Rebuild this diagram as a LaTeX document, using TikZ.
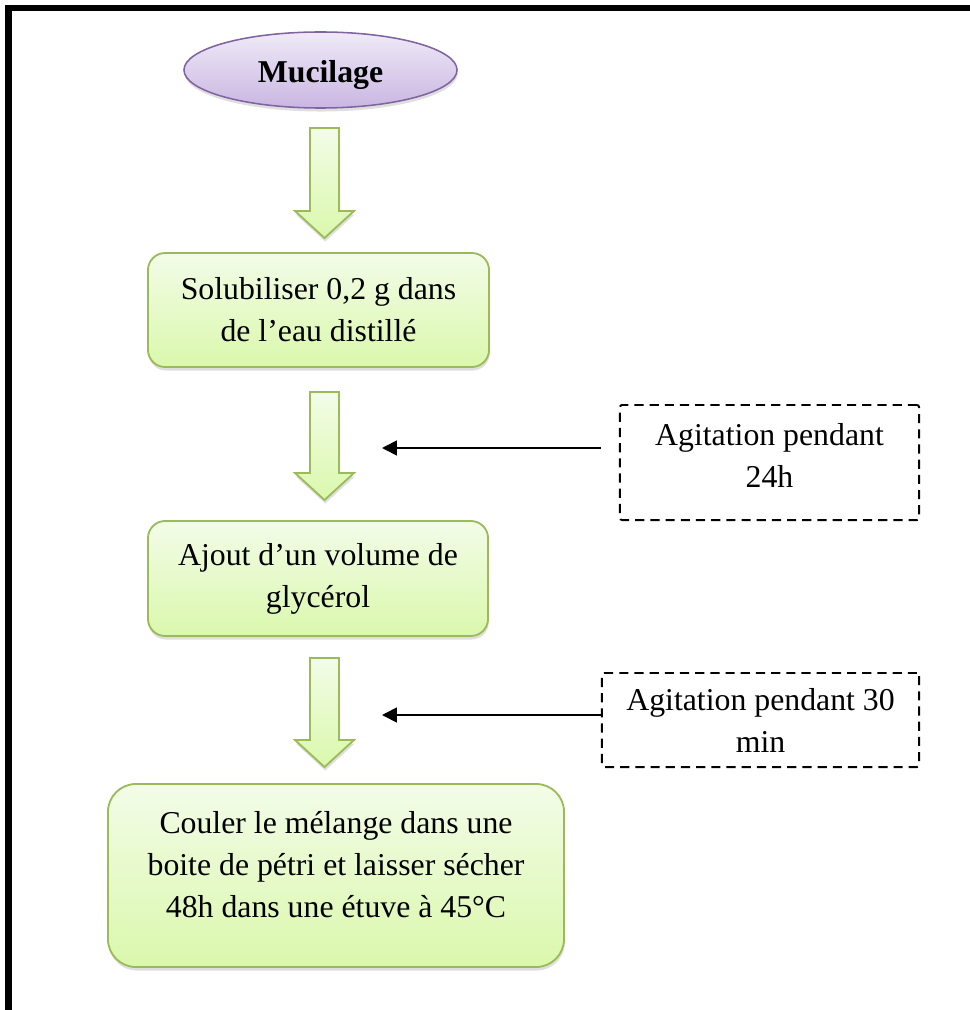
\documentclass[tikz,border=0pt]{standalone}
\usepackage{fontspec}
\setmainfont{Liberation Serif}
\usetikzlibrary{arrows.meta,shapes.geometric,shadows}

\definecolor{vertbord}{HTML}{9BBB59}
\definecolor{verthaut}{HTML}{F3FCE8}
\definecolor{vertbas}{HTML}{DAF8AC}
\definecolor{violetbord}{HTML}{8064A2}
\definecolor{violethaut}{HTML}{EFEAF7}
\definecolor{violetbas}{HTML}{CAB6E2}

\tikzset{
  ombre/.style={drop shadow={opacity=0.25, shadow xshift=0.5pt, shadow yshift=-2.5pt}},
  produit/.style={ellipse, draw=violetbord, line width=1.1pt, top color=violethaut,
    bottom color=violetbas, inner sep=0pt, ombre},
  etape/.style={rectangle, draw=vertbord, line width=1.3pt, top color=verthaut,
    bottom color=vertbas, align=center, inner sep=0pt, ombre},
  consigne/.style={rectangle, draw, line width=1.4pt, dash pattern=on 6.5pt off 4.3pt,
    rounded corners=1.5pt, align=center, inner sep=0pt},
  grosse/.style={draw=vertbord, line width=1.3pt, top color=verthaut,
    bottom color=vertbas, line join=miter, ombre},
  fleche/.style={line width=1.2pt, -{Triangle[length=10.5pt,width=10.5pt]}}
}

% grosse fleche verte : #1 = haut, #2 = pointe
\newcommand{\grossefleche}[2]{%
  \draw[grosse] ([shift={(-14.5,0)}]#1) -- ([shift={(14.5,0)}]#1)
    -- ([shift={(14.5,-27)}]#2) -- ([shift={(29.5,-27)}]#2) -- (#2)
    -- ([shift={(-29.5,-27)}]#2) -- ([shift={(-14.5,-27)}]#2) -- cycle;}

\begin{document}
\begin{tikzpicture}[x=0.025cm, y=-0.025cm,
    every node/.style={font=\fontsize{22.6}{29.9}\selectfont}]
  \useasboundingbox (0,0) rectangle (969,1010);

  % cadre
  \draw[line width=4.3pt] (8.5,1030) -- (8.5,8) -- (990,8);

  % etapes
  \node[produit, minimum width=6.825cm, minimum height=1.9cm,
    text height=0.825cm, text depth=0.175cm] (mucilage) at (320.5,70) {\bfseries Mucilage};
  \node[etape, rounded corners=0.43cm, minimum width=8.525cm, minimum height=2.85cm]
    (solub) at (318.5,310) {Solubiliser 0,2 g dans\\de l’eau distillé};
  \node[etape, rounded corners=0.43cm, minimum width=8.5cm, minimum height=2.875cm]
    (ajout) at (318,578.5) {Ajout d’un volume de\\glycérol};
  \node[etape, rounded corners=0.7cm, minimum width=11.4cm, minimum height=4.575cm,
    text depth=0.575cm] (couler) at (336,875.5)
    {Couler le mélange dans une\\boite de pétri et laisser sécher\\48h dans une étuve à 45°C};

  % conditions
  \node[consigne, minimum width=7.475cm, minimum height=2.875cm, text depth=0.35cm]
    (agit1) at (769.5,462.5) {Agitation pendant\\24h};
  \node[consigne, minimum width=7.925cm, minimum height=2.35cm]
    (agit2) at (760.5,720) {Agitation pendant 30\\min};

  % grosses fleches
  \coordinate (h1) at (324.5,128);
  \coordinate (b1) at (324.5,238);
  \coordinate (h2) at (324.5,392);
  \coordinate (b2) at (324.5,500);
  \coordinate (h3) at (324.5,658);
  \coordinate (b3) at (324.5,767);
  \grossefleche{h1}{b1}
  \grossefleche{h2}{b2}
  \grossefleche{h3}{b3}

  % fleches fines
  \coordinate (p1) at (382,448);
  \coordinate (p2) at (382,715);
  \draw[fleche] ([xshift=-0.45cm]agit1.west |- p1) -- (p1);
  \draw[fleche] (agit2.west |- p2) -- (p2);
\end{tikzpicture}
\end{document}
